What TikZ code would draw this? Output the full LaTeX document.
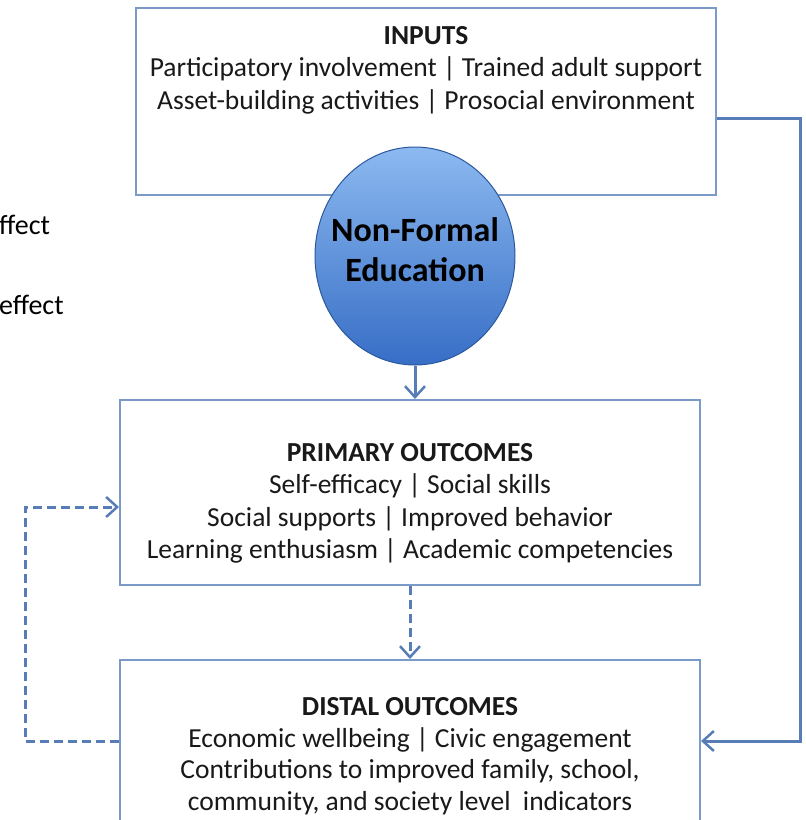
\documentclass[tikz,border=0pt]{standalone}
\usepackage{fontspec}
\setmainfont{Carlito}
\usetikzlibrary{arrows.meta,shapes.geometric}
\definecolor{boxline}{RGB}{122,154,200}
\definecolor{conn}{RGB}{88,125,182}
\definecolor{elltop}{RGB}{140,185,240}
\definecolor{ellbot}{RGB}{55,110,198}
\tikzset{
  boxnode/.style={draw=boxline, line width=2pt, fill=white, inner sep=0pt},
  bodytext/.style={align=center, font=\fontsize{27.5}{32.5}\selectfont, inner sep=0pt, text=black!90},
  connline/.style={draw=conn, line width=3pt, -{Straight Barb[length=11pt,width=20pt,line width=2.5pt]}},
  dashline/.style={connline, dash pattern=on 9pt off 5pt},
}
\begin{document}
\begin{tikzpicture}[x=1pt,y=-1pt]
\useasboundingbox (0,0) rectangle (806,820);
\clip (0,0) rectangle (806,820);
% legend remnants
\node[anchor=west, inner sep=0pt, font=\fontsize{28}{30}\selectfont] (leg1) at (-1,225) {ffect};
\node[anchor=west, inner sep=0pt, font=\fontsize{28}{30}\selectfont] (leg2) at (-1,305) {effect};
% boxes
\node[boxnode, minimum width=580pt, minimum height=187pt] (inputs) at (426,101.5) {};
\node[boxnode, minimum width=580pt, minimum height=185pt] (primary) at (410,492.5) {};
\node[boxnode, minimum width=580pt, minimum height=180pt] (distal) at (410,750) {};
% ellipse
\node[ellipse, draw=ellbot!80!black, line width=1pt, top color=elltop, bottom color=ellbot,
      minimum width=200pt, minimum height=218pt, inner sep=0pt] (nfe) at (415,256) {};
\node[align=center, inner sep=0pt, font=\fontsize{34}{40}\selectfont\bfseries] (nfetext) at (415,250) {Non-Formal\\Education};
% texts
\node[bodytext, anchor=north] (intext) at (426,26) {\textbf{INPUTS}\\Participatory involvement | Trained adult support\\Asset-building activities | Prosocial environment};
\node[bodytext, anchor=north] (prtext) at (410,443) {\textbf{PRIMARY OUTCOMES}\\Self-efficacy | Social skills\\Social supports | Improved behavior\\Learning enthusiasm | Academic competencies};
\node[bodytext, anchor=south, font=\fontsize{27.5}{31.5}\selectfont] (dstext) at (410,815) {\textbf{DISTAL OUTCOMES}\\Economic wellbeing | Civic engagement\\Contributions to improved family, school,\\community, and society level\ \ indicators};
% connectors
\draw[connline] (nfe.south) -- (nfe.south |- primary.north);
\draw[dashline] (primary.south) -- (distal.north);
\coordinate (r1) at (800,118);
\coordinate (r2) at (800,741);
\draw[connline] (inputs.east |- r1) -- (r1) -- (r2) -- (distal.east |- r2);
\coordinate (l1) at (25,741);
\coordinate (l2) at (25,507);
\draw[dashline] (distal.west |- l1) -- (l1) -- (l2) -- (primary.west |- l2);
\end{tikzpicture}
\end{document}
